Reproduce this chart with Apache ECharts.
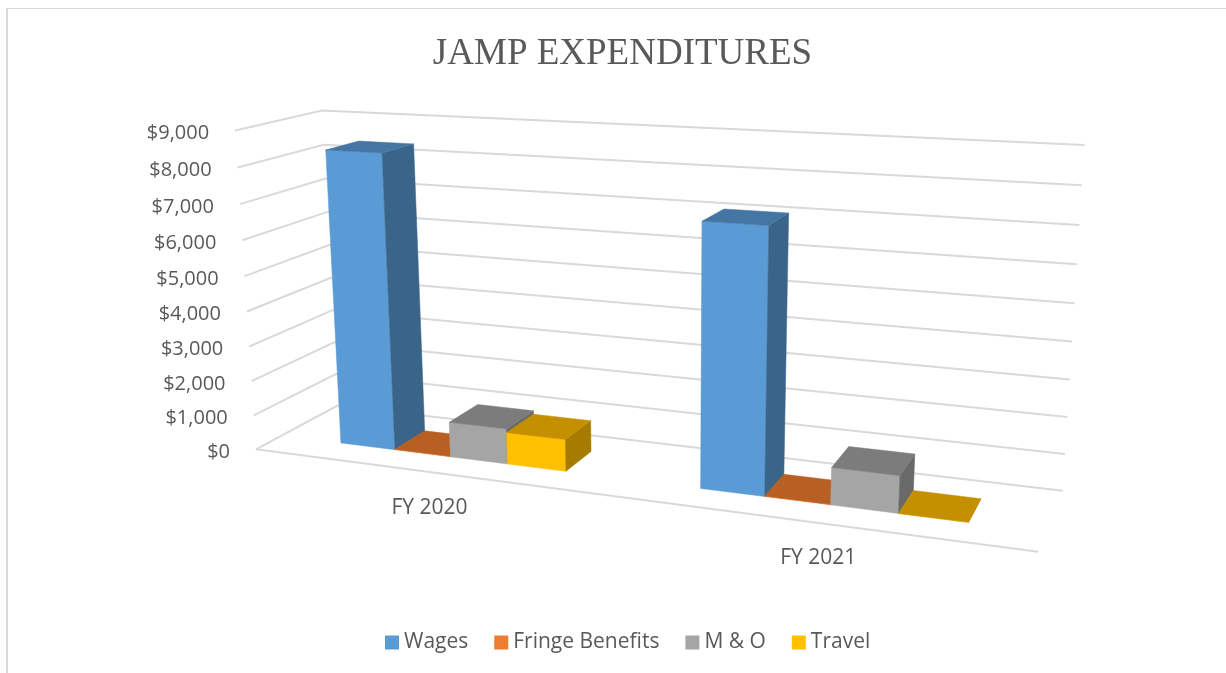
<!DOCTYPE html>
<html>
<head>
<meta charset="utf-8">
<title>JAMP Expenditures</title>
<style>
    html, body { margin: 0; padding: 0; background: #fff; }
    #main { width: 1226px; height: 673px; }
</style>
<script src="https://cdn.jsdelivr.net/npm/echarts@6/dist/echarts.min.js"></script>
</head>
<body>
<div id="main"></div>
<script>
const categories = ['FY 2020', 'FY 2021'];
const wages = [8380, 7100];
const fringe = [15, 15];
const mAndO = [1000, 1000];
const travel = [900, 0];
const yTicks = [0, 1000, 2000, 3000, 4000, 5000, 6000, 7000, 8000, 9000];
const seriesNames = ['Wages', 'Fringe Benefits', 'M & O', 'Travel'];
const seriesValues = [wages, fringe, mAndO, travel];

// front, side, top shades of each bar
const barColors = [
    ['#5b9bd5', '#3a6488', '#4575a3'],
    ['#ed7d31', '#8f4f20', '#b85f23'],
    ['#a5a5a5', '#696969', '#7c7c7c'],
    ['#ffc000', '#a67c00', '#c49000']
];

const TEXT = '#595959';
const LINE = '#d9d9d9';
const FONT = '"Open Sans", sans-serif';

// hidden flat grid, its axes give the scales; results are then put in perspective
const GRID = { left: 100, top: 100, width: 1000, height: 400 };

// corners of the chart box on screen
const P0 = [256, 449.3];      // front left floor
const PU = [1038.3, 551.7];   // front right floor
const PV = [337.5, 405.5];    // back left floor
const PUV = [1062.7, 490.7];  // back right floor
const PH = [235.7, 129.3];    // front left top
const PVH = [321.7, 108.3];   // back left top
const PUVH = [1084.3, 149];   // back right top

// gap between bar groups as a share of one bar, and depth slot of the bars
const GAP = 2.2;
const BAR_SHIFT = 2;
const DEPTH_FRONT = 0.3;
const DEPTH_BACK = 0.7;

function solve3(a, b, c, d) {
    const det = (p, q, r) =>
        p[0] * (q[1] * r[2] - q[2] * r[1]) -
        q[0] * (p[1] * r[2] - p[2] * r[1]) +
        r[0] * (p[1] * q[2] - p[2] * q[1]);
    const D = det(a, b, c);
    return [det(d, b, c) / D, det(a, d, c) / D, det(a, b, d) / D];
}

const hom = p => [p[0], p[1], 1];
const floorW = solve3(hom(PU), hom(PV), [-PUV[0], -PUV[1], -1], hom(P0));
const colO = hom(P0);
const colU = hom(PU).map((c, i) => floorW[0] * c - colO[i]);
const colV = hom(PV).map((c, i) => floorW[1] * c - colO[i]);

// height column of the projection, least squares over the three top corners
function fitHeight() {
    const pairs = [
        [colO, PH],
        [colO.map((c, i) => c + colV[i]), PVH],
        [colO.map((c, i) => c + colV[i] + colU[i]), PUVH]
    ];
    const rows = [];
    const rhs = [];
    pairs.forEach(([b, q]) => {
        rows.push([1, 0, -q[0]]);
        rhs.push(q[0] * b[2] - b[0]);
        rows.push([0, 1, -q[1]]);
        rhs.push(q[1] * b[2] - b[1]);
    });
    const ata = [0, 1, 2].map(c => [0, 1, 2].map(r => rows.reduce((s, row) => s + row[r] * row[c], 0)));
    const atb = [0, 1, 2].map(r => rows.reduce((s, row, k) => s + row[r] * rhs[k], 0));
    return solve3(ata[0], ata[1], ata[2], atb);
}
const colH = fitHeight();

// u along categories, v into the depth, h up the value axis, all 0..1
function project(u, v, h) {
    const p = [0, 1, 2].map(i => colO[i] + u * colU[i] + v * colV[i] + h * colH[i]);
    return [p[0] / p[2], p[1] / p[2]];
}

const toU = px => (px - GRID.left) / GRID.width;
const toH = py => (GRID.top + GRID.height - py) / GRID.height;

function renderBar(seriesIndex) {
    return function (params, api) {
        const cat = api.value(0);
        const center = api.coord([cat, 0]);
        const top = api.coord([cat, api.value(1)]);
        const band = api.size([1, 0])[0];
        const barW = band / (seriesNames.length + GAP);
        const x0 = center[0] + BAR_SHIFT - barW * seriesNames.length / 2 + barW * seriesIndex;
        const u0 = toU(x0);
        const u1 = toU(x0 + barW);
        const h = toH(top[1]);
        const c = barColors[seriesIndex];
        const face = (pts, fill) => ({
            type: 'polygon',
            shape: { points: pts },
            style: { fill: fill, stroke: fill, lineWidth: 0.5 }
        });
        return {
            type: 'group',
            children: [
                face([project(u0, DEPTH_FRONT, 0), project(u1, DEPTH_FRONT, 0), project(u1, DEPTH_FRONT, h), project(u0, DEPTH_FRONT, h)], c[0]),
                face([project(u1, DEPTH_FRONT, 0), project(u1, DEPTH_BACK, 0), project(u1, DEPTH_BACK, h), project(u1, DEPTH_FRONT, h)], c[1]),
                face([project(u0, DEPTH_FRONT, h), project(u1, DEPTH_FRONT, h), project(u1, DEPTH_BACK, h), project(u0, DEPTH_BACK, h)], c[2])
            ]
        };
    };
}

function renderTick(params, api) {
    const h = toH(api.coord([0, api.value(0)])[1]);
    const a = project(0, 0, h);
    const b = project(0, 1, h);
    const c = project(1, 1, h);
    const children = [{
        type: 'polyline',
        shape: { points: [a, b, c] },
        style: { fill: null, stroke: LINE, lineWidth: 2 }
    }, {
        type: 'text',
        style: {
            text: '$' + api.value(0).toLocaleString('en-US'),
            x: a[0] - 26,
            y: a[1] + 3,
            align: 'right',
            verticalAlign: 'middle',
            fill: TEXT,
            font: '20px ' + FONT
        }
    }];
    if (api.value(0) === 0) {
        children.push({
            type: 'line',
            shape: { x1: a[0], y1: a[1], x2: project(1, 0, 0)[0], y2: project(1, 0, 0)[1] },
            style: { stroke: LINE, lineWidth: 2 }
        });
    }
    return { type: 'group', children: children };
}

function renderCategory(params, api) {
    const u = toU(api.coord([api.value(0), 0])[0]);
    const p = project(u, 0, 0);
    return {
        type: 'text',
        style: {
            text: categories[api.value(0)],
            x: p[0] + 3,
            y: p[1] + 36,
            align: 'center',
            verticalAlign: 'middle',
            fill: TEXT,
            font: '21px ' + FONT
        }
    };
}

const chart = echarts.init(document.getElementById('main'), null, { renderer: 'canvas' });

const barSeries = seriesNames.map((name, i) => ({
    name: name,
    type: 'custom',
    renderItem: renderBar(i),
    itemStyle: { color: barColors[i][0] },
    data: seriesValues[i].map((v, c) => [c, v]),
    z: 5 + i,
    silent: true
}));

chart.setOption({
    animation: false,
    backgroundColor: '#fff',
    title: {
        text: 'JAMP EXPENDITURES',
        left: 617.5,
        top: 31,
        textAlign: 'center',
        textStyle: { fontFamily: '"Liberation Serif", serif', fontSize: 37, fontWeight: 'normal', color: TEXT }
    },
    legend: {
        data: seriesNames,
        left: 380,
        top: 627,
        icon: 'rect',
        itemWidth: 14,
        itemHeight: 14,
        itemGap: 26,
        selectedMode: false,
        textStyle: { fontFamily: FONT, fontSize: 21, color: TEXT }
    },
    grid: GRID,
    xAxis: { type: 'category', data: categories, show: false },
    yAxis: { type: 'value', min: 0, max: 9000, interval: 1000, show: false },
    graphic: [
        { type: 'line', shape: { x1: 6, y1: 8.5, x2: 1226, y2: 8.5 }, style: { stroke: '#d9d9d9', lineWidth: 1 } },
        { type: 'line', shape: { x1: 7, y1: 8, x2: 7, y2: 673 }, style: { stroke: '#d9d9d9', lineWidth: 2 } }
    ],
    series: [
        { name: 'ticks', type: 'custom', renderItem: renderTick, data: yTicks.map(v => [v]), encode: { y: 0 }, z: 1, silent: true },
        { name: 'labels', type: 'custom', renderItem: renderCategory, data: categories.map((c, i) => [i]), encode: { x: 0 }, z: 2, silent: true }
    ].concat(barSeries)
});
</script>
</body>
</html>
